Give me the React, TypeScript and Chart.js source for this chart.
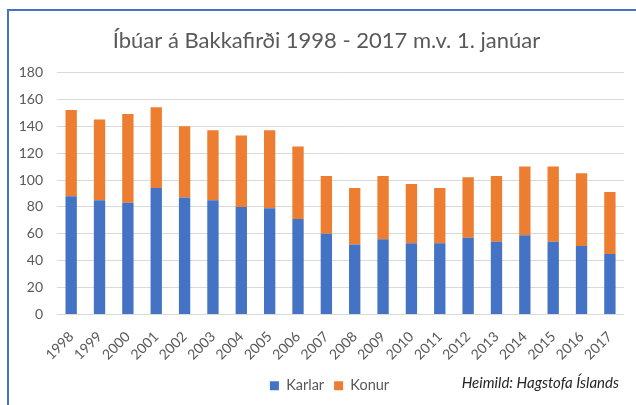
import React, { useEffect, useRef } from "react";
import { Chart, registerables } from "chart.js";

Chart.register(...registerables);

const chartTitle = "Íbúar á Bakkafirði 1998 - 2017 m.v. 1. janúar";
const sourceNote = "Heimild: Hagstofa Íslands";
const years = [
  "1998", "1999", "2000", "2001", "2002", "2003", "2004", "2005", "2006", "2007",
  "2008", "2009", "2010", "2011", "2012", "2013", "2014", "2015", "2016", "2017",
];
const karlar = [88, 85, 83, 94, 87, 85, 80, 79, 71, 60, 52, 56, 53, 53, 57, 54, 59, 54, 51, 45];
const konur = [64, 60, 66, 60, 53, 52, 53, 58, 54, 43, 42, 47, 44, 41, 45, 49, 51, 56, 54, 46];
const yTicks = [0, 20, 40, 60, 80, 100, 120, 140, 160, 180];

const FONT = "Lato, 'Open Sans', sans-serif";
const GREY = "#595959";

export default function App() {
  const ref = useRef<HTMLCanvasElement>(null);

  useEffect(() => {
    if (!ref.current) return;
    const framePlugin = {
      id: "frameAndNote",
      afterLayout(chart: any) {
        if (chart.legend) {
          chart.legend.left += 10;
          chart.legend.right += 10;
        }
        if (chart.titleBlock) {
          chart.titleBlock.left += 7;
          chart.titleBlock.right += 7;
        }
      },
      afterDraw(chart: any) {
        const ctx = chart.ctx;
        ctx.save();
        ctx.strokeStyle = "#4472C4";
        ctx.lineWidth = 2;
        ctx.beginPath();
        ctx.moveTo(8, 405);
        ctx.lineTo(8, 10);
        ctx.lineTo(636, 10);
        ctx.stroke();
        ctx.font = `italic 15px ${FONT}`;
        ctx.fillStyle = "#262626";
        ctx.textAlign = "right";
        ctx.textBaseline = "middle";
        ctx.fillText(sourceNote, 619, 383);
        ctx.restore();
      },
    };

    const chart = new Chart(ref.current, {
      type: "bar",
      data: {
        labels: years,
        datasets: [
          {
            label: "Karlar",
            data: karlar,
            backgroundColor: "#4472C4",
            categoryPercentage: 0.8,
            barPercentage: 0.5,
          },
          {
            label: "Konur",
            data: konur,
            backgroundColor: "#ED7D31",
            categoryPercentage: 0.8,
            barPercentage: 0.5,
          },
        ],
      },
      options: {
        responsive: false,
        animation: false,
        layout: { padding: { left: 12, right: 9, top: 10, bottom: 2 } },
        plugins: {
          title: {
            display: true,
            text: chartTitle,
            color: GREY,
            font: { family: FONT, size: 22, weight: "normal" },
            padding: { top: 18, bottom: 18 },
          },
          legend: {
            position: "bottom",
            labels: {
              boxWidth: 9,
              boxHeight: 9,
              padding: 10,
              color: GREY,
              font: { family: FONT, size: 14.5 },
            },
          },
          tooltip: { enabled: false },
        },
        scales: {
          x: {
            stacked: true,
            grid: { display: false, drawTicks: false },
            border: { display: false },
            ticks: {
              minRotation: 45,
              maxRotation: 45,
              color: GREY,
              padding: 14,
              font: { family: FONT, size: 14 },
            },
            afterFit(scale: any) {
              scale.height = 54;
            },
          },
          y: {
            stacked: true,
            min: 0,
            max: 180,
            afterBuildTicks(scale: any) {
              scale.ticks = yTicks.map((v) => ({ value: v }));
            },
            grid: { color: "#D9D9D9", drawTicks: false, lineWidth: 1 },
            border: { display: false },
            ticks: {
              color: GREY,
              padding: 14,
              font: { family: FONT, size: 14 },
            },
            afterFit(scale: any) {
              scale.width = 45;
            },
          },
        },
      },
      plugins: [framePlugin],
    });
    return () => chart.destroy();
  }, []);

  return (
    <div style={{ position: "absolute", left: 0, top: 0, width: 636, height: 405 }}>
      <canvas ref={ref} width={636} height={405} style={{ display: "block" }} />
    </div>
  );
}
